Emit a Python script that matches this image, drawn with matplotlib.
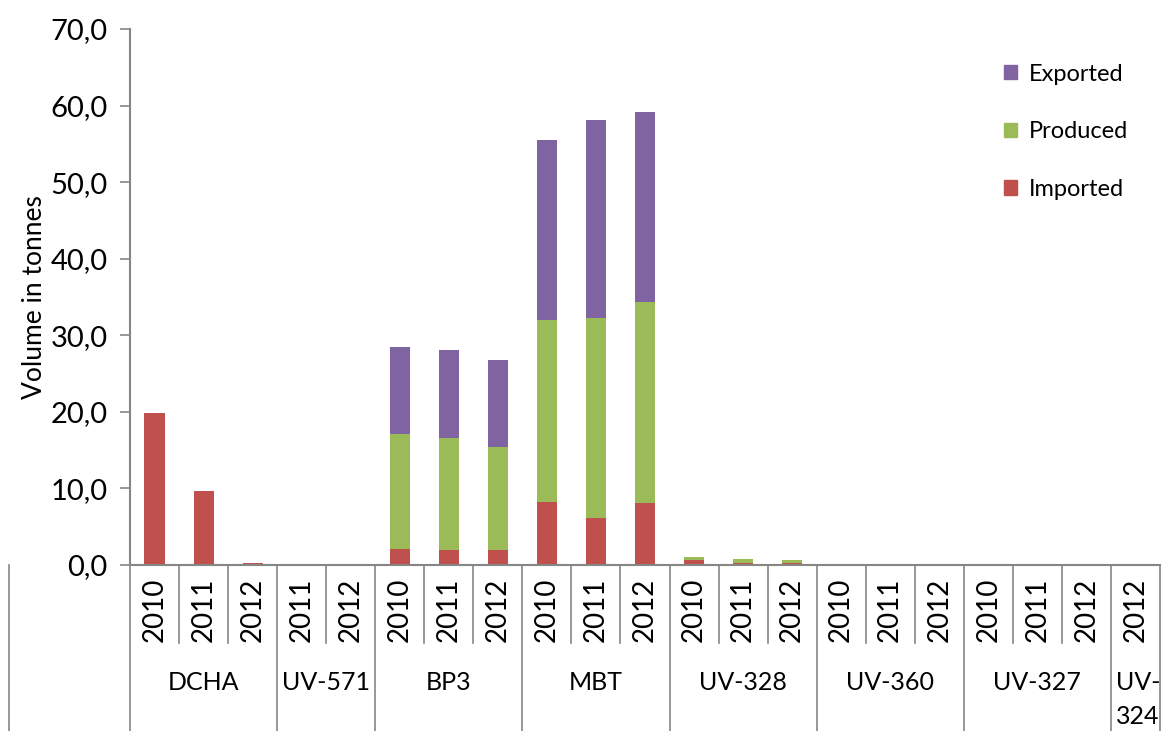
import numpy as np
import matplotlib
matplotlib.use('Agg')
import matplotlib.pyplot as plt
import matplotlib.transforms as mtransforms
from matplotlib.patches import Patch

plt.rcParams['font.family'] = ['Lato', 'DejaVu Sans']

groups = ['DCHA', 'UV-571', 'BP3', 'MBT', 'UV-328', 'UV-360', 'UV-327', 'UV-\n324']
group_years = [['2010', '2011', '2012'], ['2011', '2012'], ['2010', '2011', '2012'],
               ['2010', '2011', '2012'], ['2010', '2011', '2012'], ['2010', '2011', '2012'],
               ['2010', '2011', '2012'], ['2012']]

imported = [19.8, 9.7, 0.3, 0, 0, 2.1, 1.9, 2.0, 8.2, 6.1, 8.1, 0.6, 0.3, 0.3, 0, 0, 0, 0, 0, 0, 0]
produced = [0, 0, 0, 0, 0, 15.0, 14.7, 13.4, 23.8, 26.2, 26.2, 0.5, 0.5, 0.3, 0, 0, 0, 0, 0, 0, 0]
exported = [0, 0, 0, 0, 0, 11.4, 11.5, 11.4, 23.5, 25.8, 24.9, 0, 0, 0, 0, 0, 0, 0, 0, 0, 0]

c_imp = '#C0504D'
c_prod = '#9BBB59'
c_exp = '#8064A2'
gray = '#868686'

years = [y for g in group_years for y in g]
n = len(years)
x = np.arange(n)
imported = np.array(imported)
produced = np.array(produced)
exported = np.array(exported)

fig = plt.figure(figsize=(11.65, 7.31), dpi=100)
ax = fig.add_axes([130/1165, 1-565/731, 1030/1165, 536/731])

w = 0.41
ax.bar(x, imported, w, color=c_imp, label='Imported')
ax.bar(x, produced, w, bottom=imported, color=c_prod, label='Produced')
ax.bar(x, exported, w, bottom=imported+produced, color=c_exp, label='Exported')

ax.set_xlim(-0.5, n-0.5)
ax.set_ylim(0, 70)
ax.set_yticks(np.arange(0, 71, 10))
ax.set_yticklabels(['%d,0' % v for v in range(0, 71, 10)], fontsize=21)
ax.tick_params(axis='y', length=7, width=1.2, color=gray, pad=9)
ax.set_xticks([])

for s in ['top', 'right']:
    ax.spines[s].set_visible(False)
for s in ['left', 'bottom']:
    ax.spines[s].set_color(gray)
    ax.spines[s].set_linewidth(1.5)

# the label sits over the tick labels, as in the source chart
ax.set_ylabel('Volume in tonnes', fontsize=19)
ax.yaxis.set_label_coords((47-130)/1030, 0.5)

# category table under the axis
trans = mtransforms.blended_transform_factory(ax.transData, ax.transAxes)
y_year = (565-643)/536
y_bot = (565-731)/536
starts = []
pos = 0
for g in group_years:
    starts.append(pos)
    pos += len(g)
starts.append(pos)

for i in range(n+1):
    xx = i - 0.5
    if i in starts:
        ax.plot([xx, xx], [0, y_bot], transform=trans, color=gray, lw=1.2, clip_on=False)
    else:
        ax.plot([xx, xx], [0, y_year], transform=trans, color=gray, lw=1.2, clip_on=False)

for i, yr in enumerate(years):
    ax.text(i, (565-610)/536, yr, transform=trans, rotation=90, ha='center', va='center', fontsize=20)

for gi, g in enumerate(groups):
    cx = (starts[gi] + starts[gi+1] - 1) / 2
    if '\n' in g:
        parts = g.split('\n')
        ax.text(cx - 0.4, (565-682)/536, parts[0], transform=trans, ha='left', va='center', fontsize=18)
        ax.text(cx - 0.4, (565-717)/536, parts[1], transform=trans, ha='left', va='center', fontsize=18)
    else:
        ax.text(cx, (565-682)/536, g, transform=trans, ha='center', va='center', fontsize=18)

# outer left line of the category table
fig.add_artist(plt.Line2D([9/1165, 9/1165], [0, 1-565/731], color=gray, lw=1.2))

handles = [Patch(color=c_exp, label='Exported'),
           Patch(color=c_prod, label='Produced'),
           Patch(color=c_imp, label='Imported')]
ax.legend(handles=handles, loc='upper right', bbox_to_anchor=(0.99, 0.975), frameon=False,
          fontsize=17, handlelength=0.55, handleheight=0.55, labelspacing=1.55, handletextpad=0.5)

fig.savefig('out.png', dpi=100)
